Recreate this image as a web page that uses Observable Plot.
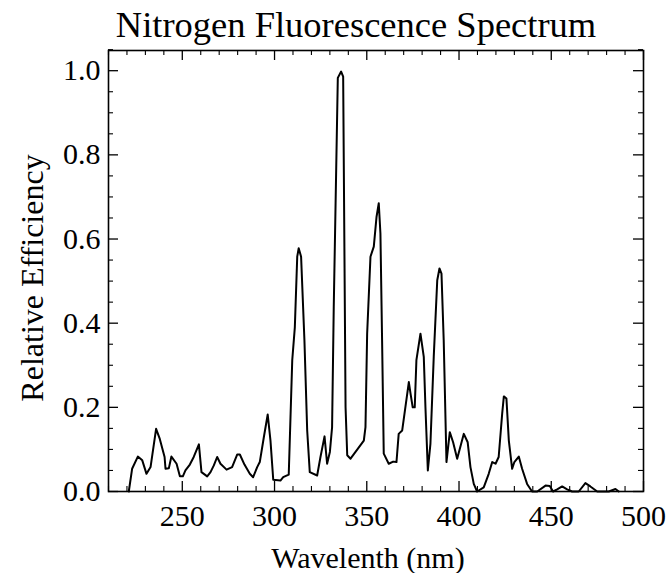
<!DOCTYPE html>
<html>
<head>
<meta charset="utf-8">
<script src="https://cdn.jsdelivr.net/npm/d3@7"></script>
<script src="https://cdn.jsdelivr.net/npm/@observablehq/plot@0.6"></script>
<style>
  html, body { margin: 0; padding: 0; background: #fff; }
  #chart svg { display: block; }
</style>
</head>
<body>
<div id="chart"></div>
<script>
const title = "Nitrogen Fluorescence Spectrum";
const xLabel = "Wavelenth (nm)";
const yLabel = "Relative Efficiency";

const wavelength = [
  221, 222.8, 225.9, 228.3, 230.6, 232.8, 235.8, 237.8, 240.4, 240.9,
  242.7, 244.1, 246.9, 248.7, 250.3, 251.7, 254.1, 256.2, 259, 260.4,
  263.5, 265.3, 267.1, 268.9, 270.7, 274, 277, 279.8, 281.2, 283.7,
  286.6, 288.4, 290.6, 292, 294.2, 296.3, 297.8, 299.3, 303.2, 304.7,
  307.7, 309.6, 311, 312.3, 313.1, 314.4, 316.2, 317.7, 319.1, 323.1,
  324.9, 327.1, 328.5, 330, 331.2, 332.1, 334.3, 336.1, 337.2, 338.5,
  339.4, 341.2, 348.4, 349.3, 350.2, 352, 353.8, 355.3, 356.5, 357.4,
  358.3, 359.2, 361.9, 364.3, 366.1, 367.3, 369.2, 372.8, 373.7, 374.9,
  376, 376.9, 379.1, 380.9, 381.8, 383.1, 384.5, 386.3, 388.2, 389.4,
  390.5, 391.7, 393.2, 395, 396.8, 399, 402.6, 404.7, 406.2, 408,
  409.8, 413.4, 416.1, 418, 419.8, 421.5, 423.4, 424.3, 425.7, 427,
  428.8, 430, 432.4, 434.2, 436.9, 439.6, 442.4, 446.9, 449.2, 451,
  453.2, 455.9, 458.6, 461.3, 464.9, 468.5, 471.2, 474.9, 481.2, 484.8,
  486.6
];
const efficiency = [
  0, 0.054, 0.083, 0.074, 0.042, 0.058, 0.149, 0.125, 0.082, 0.054,
  0.055, 0.083, 0.066, 0.036, 0.036, 0.05, 0.064, 0.082, 0.112, 0.046,
  0.036, 0.046, 0.062, 0.082, 0.066, 0.052, 0.058, 0.088, 0.088, 0.064,
  0.042, 0.034, 0.058, 0.07, 0.129, 0.183, 0.121, 0.028, 0.026, 0.034,
  0.04, 0.312, 0.39, 0.558, 0.578, 0.558, 0.36, 0.145, 0.046, 0.038,
  0.082, 0.131, 0.066, 0.094, 0.153, 0.439, 0.983, 0.998, 0.986, 0.2,
  0.086, 0.078, 0.121, 0.153, 0.375, 0.558, 0.582, 0.653, 0.685, 0.613,
  0.36, 0.09, 0.066, 0.071, 0.07, 0.137, 0.145, 0.26, 0.233, 0.2,
  0.2, 0.312, 0.375, 0.32, 0.2, 0.05, 0.113, 0.32, 0.502, 0.53,
  0.518, 0.36, 0.07, 0.141, 0.117, 0.078, 0.137, 0.117, 0.058, 0.018,
  0, 0.01, 0.042, 0.07, 0.066, 0.082, 0.185, 0.226, 0.221, 0.121,
  0.054, 0.07, 0.083, 0.054, 0.018, 0, 0, 0.014, 0.013, 0,
  0.005, 0.012, 0.005, 0, 0, 0.02, 0.012, 0, 0, 0.006,
  0
];

const xTicks = [250, 300, 350, 400, 450, 500];
const xMinorTicks = [210, 220, 230, 240, 260, 270, 280, 290, 310, 320, 330, 340, 360, 370, 380, 390, 410, 420, 430, 440, 460, 470, 480, 490];
const yTicks = [0, 0.2, 0.4, 0.6, 0.8, 1.0];
const yMinorTicks = [0.05, 0.1, 0.15, 0.25, 0.3, 0.35, 0.45, 0.5, 0.55, 0.65, 0.7, 0.75, 0.85, 0.9, 0.95, 1.05];

const W = 667, H = 573;
const mL = 108, mR = 24, mT = 50, mB = 82;
const innerW = W - mL - mR, innerH = H - mT - mB;
const majorLen = 10, minorLen = 5;
const font = "'Liberation Serif', 'Times New Roman', serif";

const chart = Plot.plot({
  width: W,
  height: H,
  marginLeft: mL,
  marginRight: mR,
  marginTop: mT,
  marginBottom: mB,
  style: { fontFamily: font, background: "#fff", color: "#000" },
  x: { domain: [210, 500] },
  y: { domain: [0, 1.048] },
  marks: [
    // inward ticks on all four sides
    Plot.tickX(xTicks, { x: d => d, insetTop: innerH - majorLen, stroke: "#000", strokeWidth: 1.3 }),
    Plot.tickX(xTicks, { x: d => d, insetBottom: innerH - majorLen, stroke: "#000", strokeWidth: 1.3 }),
    Plot.tickX(xMinorTicks, { x: d => d, insetTop: innerH - minorLen, stroke: "#000", strokeWidth: 1.1 }),
    Plot.tickX(xMinorTicks, { x: d => d, insetBottom: innerH - minorLen, stroke: "#000", strokeWidth: 1.1 }),
    Plot.tickY(yTicks, { y: d => d, insetRight: innerW - majorLen, stroke: "#000", strokeWidth: 1.3 }),
    Plot.tickY(yTicks, { y: d => d, insetLeft: innerW - majorLen, stroke: "#000", strokeWidth: 1.3 }),
    Plot.tickY(yMinorTicks, { y: d => d, insetRight: innerW - minorLen, stroke: "#000", strokeWidth: 1.1 }),
    Plot.tickY(yMinorTicks, { y: d => d, insetLeft: innerW - minorLen, stroke: "#000", strokeWidth: 1.1 }),
    Plot.axisX(xTicks, { tickSize: 0, tickPadding: 13, fontSize: 30, label: null, tickFormat: d3.format("d") }),
    Plot.axisY(yTicks, { tickSize: 0, tickPadding: 8, fontSize: 30, label: null, tickFormat: d3.format(".1f") }),
    Plot.line({ length: wavelength.length }, {
      x: wavelength, y: efficiency,
      stroke: "#000", strokeWidth: 2, strokeLinejoin: "round"
    }),
    Plot.frame({ stroke: "#000", strokeWidth: 1.6 }),
    Plot.text([title], { frameAnchor: "top", dy: -25, dx: -20, fontSize: 36.5, lineAnchor: "middle", fill: "#000" }),
    Plot.text([xLabel], { frameAnchor: "bottom", dy: 76, dx: -8, fontSize: 30, lineAnchor: "bottom", fill: "#000" }),
    Plot.text([yLabel], { frameAnchor: "left", dx: -76, dy: 7, rotate: -90, fontSize: 32, lineAnchor: "middle", textAnchor: "middle", fill: "#000" })
  ]
});
document.getElementById("chart").append(chart);
</script>
</body>
</html>
